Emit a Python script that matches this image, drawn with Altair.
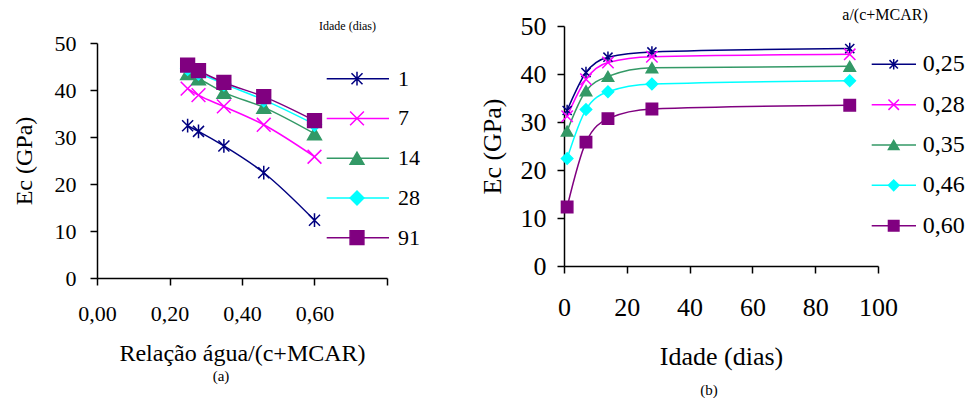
import altair as alt
import pandas as pd

# ---------------- data ----------------
ages = [1, 7, 14, 28, 91]
age_labels = ["1", "7", "14", "28", "91"]
ratios = [0.25, 0.28, 0.35, 0.46, 0.60]
ratio_labels = ["0,25", "0,28", "0,35", "0,46", "0,60"]

# Ec (GPa) for each a/(c+MCAR) ratio, at ages 1, 7, 14, 28, 91 days
ec_025 = [32.4, 40.3, 43.5, 44.6, 45.3]
ec_028 = [31.2, 38.9, 42.4, 43.6, 44.1]
ec_035 = [28.1, 36.5, 39.5, 41.3, 41.6]
ec_046 = [22.4, 32.6, 36.3, 37.9, 38.6]
ec_060 = [12.3, 25.8, 30.7, 32.7, 33.5]
ec_by_ratio = [ec_025, ec_028, ec_035, ec_046, ec_060]

x_ticks_left = [0, 0.2, 0.4, 0.6, 0.8]
x_ticks_right = [0, 20, 40, 60, 80, 100]
y_ticks = [0, 10, 20, 30, 40, 50]

# ---------------- style ----------------
colors = ["#000080", "#FF00FF", "#339966", "#00FFFF", "#800080"]
fills = ["transparent", "transparent", "#339966", "#00FFFF", "#800080"]
ASTER = "M0,-1L0,1M-0.8,-0.8L0.8,0.8M-0.8,0.8L0.8,-0.8"
XMARK = "M-1,-1L1,1M-1,1L1,-1"
shapes = [ASTER, XMARK, "triangle-up", "diamond", "square"]
FONT = "Times New Roman, Liberation Serif, serif"

rows = []
for i, r in enumerate(ratios):
    for j, a in enumerate(ages):
        rows.append({"ratio": r, "age": a, "ec": ec_by_ratio[i][j],
                     "ratio_label": ratio_labels[i], "age_label": age_labels[j]})
df = pd.DataFrame(rows)

df_left = df.assign(serie=df["age_label"])
df_right = df.assign(serie=df["ratio_label"])


def panel(data, xfield, xscale, xaxis, labels, yrange, yaxis, width, height,
          msize, lsize, leg, caption):
    stroke = alt.Stroke("serie:N", scale=alt.Scale(domain=labels, range=colors), legend=None)
    fill = alt.Fill("serie:N", scale=alt.Scale(domain=labels, range=fills), legend=None)
    shape = alt.Shape("serie:N", scale=alt.Scale(domain=labels, range=shapes), legend=None)
    x = alt.X(f"{xfield}:Q", scale=xscale, axis=xaxis)
    y = alt.Y("ec:Q", scale=alt.Scale(domain=[0, 50], range=yrange, nice=False, zero=False), axis=yaxis)

    base = alt.Chart(data)
    line = base.mark_line(interpolate="monotone", strokeWidth=1.5).encode(
        x=x, y=y, stroke=stroke, detail="serie:N")
    pts = base.mark_point(opacity=1, strokeWidth=1.5, size=msize).encode(
        x=x, y=y, stroke=stroke, fill=fill, shape=shape)

    legdf = pd.DataFrame({"serie": labels})
    ly = alt.Y("serie:N", scale=alt.Scale(type="point", domain=labels, range=leg["yr"], padding=0),
               axis=None)
    lb = alt.Chart(legdf)
    lrule = lb.mark_rule(strokeWidth=1.5).encode(
        x=alt.value(leg["x1"]), x2=alt.value(leg["x2"]), y=ly, stroke=stroke)
    lpts = lb.mark_point(opacity=1, strokeWidth=1.5, size=lsize).encode(
        x=alt.value(leg["xm"]), y=ly, stroke=stroke, fill=fill, shape=shape)
    ltxt = lb.mark_text(align="left", baseline="middle", font=FONT, fontSize=leg["fs"],
                        color="black").encode(x=alt.value(leg["xt"]), y=ly, text="serie:N")
    ltitle = alt.Chart(pd.DataFrame({"t": [leg["title"]]})).mark_text(
        align="center", baseline="middle", font=FONT, fontSize=leg["tfs"], color="black"
    ).encode(x=alt.value(leg["tx"]), y=alt.value(leg["ty"]), text="t:N")

    return alt.layer(
        alt.layer(line, pts),
        alt.layer(lrule, lpts, ltxt, ltitle),
    ).resolve_scale(y="independent").properties(width=width, height=height, title=caption)


axis_common = dict(grid=False, labelFlush=False, labelOverlap=False, tickSize=7,
                   titleFontWeight="normal", titleBaseline="middle")

left = panel(
    df_left, "ratio",
    alt.Scale(domain=[0, 0.8], nice=False, zero=False),
    alt.Axis(values=x_ticks_left,
             labelExpr="datum.value > 0.7 ? '' : replace(format(datum.value, '.2f'), '.', ',')",
             title="Relação água/(c+MCAR)", titleFontSize=24, labelFontSize=22,
             labelPadding=18, titleY=75, **axis_common),
    age_labels, [252, 17],
    alt.Axis(values=y_ticks, format="d", title="Ec (GPa)", titleFontSize=24, labelFontSize=22,
             labelPadding=14, titleX=-73, **axis_common),
    290, 252, 190, 190,
    dict(yr=[52.7, 211.7], x1=229.7, x2=292, xm=260, xt=301, fs=22,
         title="Idade (dias)", tfs=12, tx=250.5, ty=0),
    alt.TitleParams("(a)", orient="bottom", fontSize=15, dx=-21, offset=4),
)

right = panel(
    df_right, "age",
    alt.Scale(domain=[0, 100], nice=False, zero=False),
    alt.Axis(values=x_ticks_right, format="d", title="Idade (dias)", titleFontSize=26,
             labelFontSize=26, labelPadding=21, titleY=90, **axis_common),
    ratio_labels, [240, 0],
    alt.Axis(values=y_ticks, format="d", title="Ec (GPa)", titleFontSize=26, labelFontSize=26,
             labelPadding=11, titleX=-72, **axis_common),
    314, 240, 130, 110,
    dict(yr=[38.3, 199.7], x1=307.7, x2=352, xm=329.7, xt=358.7, fs=24,
         title="a/(c+MCAR)", tfs=16, tx=321, ty=-11),
    alt.TitleParams("(b)", orient="bottom", fontSize=15, dx=-12, offset=14),
)

chart = alt.hconcat(left, right, spacing=177, bounds="flush").properties(
    padding={"left": 11, "top": 7, "right": 0, "bottom": 0}
).configure_view(stroke=None).configure_axis(
    labelFont=FONT, titleFont=FONT, labelColor="black", titleColor="black",
    domainColor="black", tickColor="black", domainWidth=1.5, tickWidth=1.5
).configure_title(font=FONT, fontWeight="normal", color="black")

chart.save("out.html", embed_options={"renderer": "svg", "actions": False})
